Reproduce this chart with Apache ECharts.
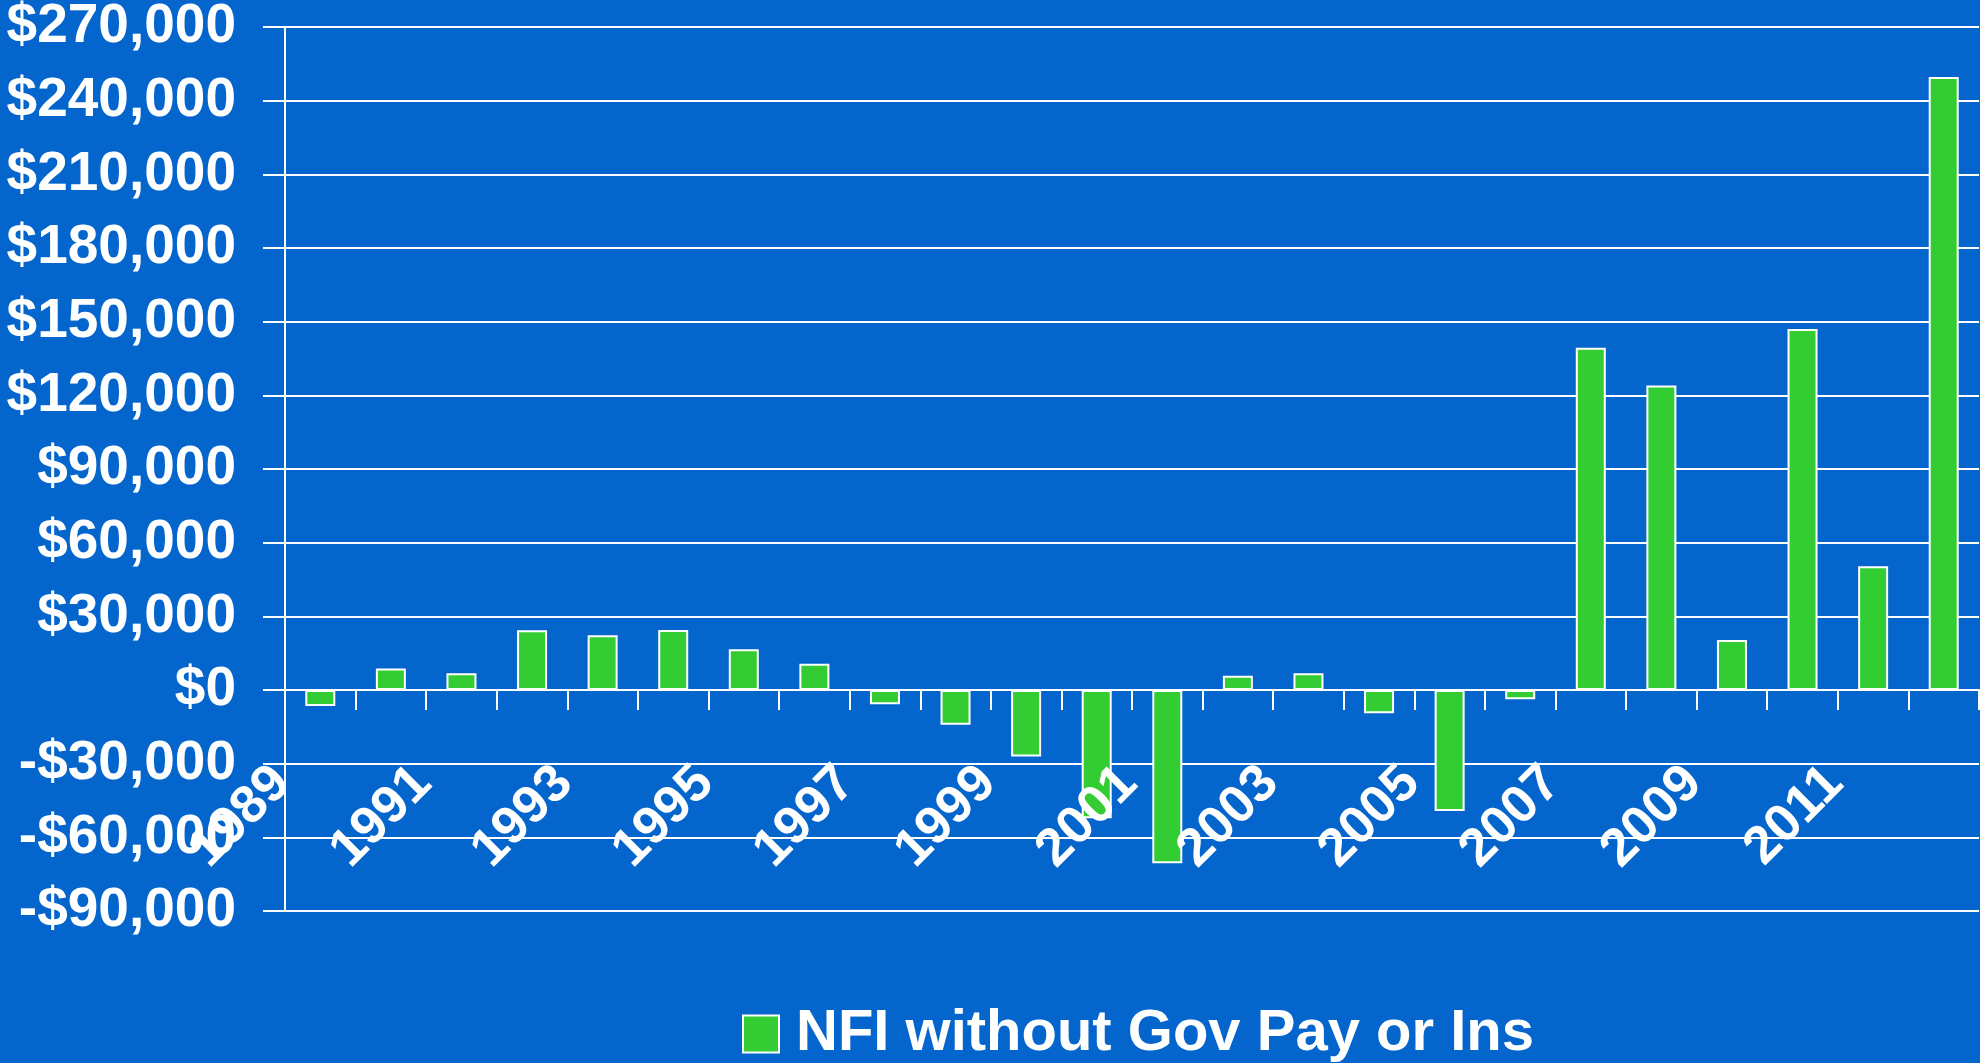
<!DOCTYPE html>
<html><head><meta charset="utf-8">
<script src="https://cdn.jsdelivr.net/npm/echarts@6/dist/echarts.min.js"></script>
<style>html,body{margin:0;padding:0;background:#0466cc}#c{width:1980px;height:1063px}</style>
</head><body><div id="c"></div>
<script>
const years = ['1989','1990','1991','1992','1993','1994','1995','1996','1997','1998','1999','2000','2001','2002','2003','2004','2005','2006','2007','2008','2009','2010','2011','2012'];
const nfiValues = [-6500, 8800, 6800, 24300, 22300, 24400, 16600, 10700, -5800, -14200, -27100, -52200, -70600, 5800, 6800, -9500, -49300, -3800, 139400, 124000, 20400, 147000, 50400, 249600];
const seriesName = 'NFI without Gov Pay or Ins';
const yMin = -90000, yMax = 270000, yStep = 30000;

const FONT = "'Liberation Sans', Arial, sans-serif";
const chart = echarts.init(document.getElementById('c'), null, {renderer: 'canvas'});
chart.setOption({
  backgroundColor: '#0466cc',
  animation: false,
  grid: {left: 285, right: 1, top: 27, bottom: 152, containLabel: false, outerBoundsMode: 'none'},
  legend: {
    data: [seriesName], left: 742, top: 1005, padding: 0,
    itemWidth: 36, itemHeight: 37, itemGap: 19,
    icon: 'rect',
    itemStyle: {borderColor: '#ffffff', borderWidth: 2},
    textStyle: {color: '#ffffff', fontFamily: FONT, fontWeight: 'bold', fontSize: 58, lineHeight: 58, padding: [0,0,0,12]}
  },
  xAxis: {
    type: 'category', data: years, z: 5,
    axisLine: {onZero: true, lineStyle: {color: '#ffffff', width: 2}},
    axisTick: {show: true, length: 20, interval: 0, lineStyle: {color: '#ffffff', width: 2}},
    axisLabel: {interval: 1, rotate: 45, margin: -174, color: '#ffffff', fontFamily: FONT, fontWeight: 'bold', fontSize: 53, padding: [0, 54, 0, 0]},
    splitLine: {show: false}
  },
  yAxis: {
    type: 'value', min: yMin, max: yMax, interval: yStep,
    axisLine: {show: true, lineStyle: {color: '#ffffff', width: 2}},
    axisTick: {show: true, length: 22, lineStyle: {color: '#ffffff', width: 2}},
    splitLine: {show: true, lineStyle: {color: '#ffffff', width: 2}},
    axisLabel: {
      margin: 49, color: '#ffffff', fontFamily: FONT, fontWeight: 'bold', fontSize: 55,
      formatter: v => (v < 0 ? '-$' : '$') + Math.abs(v).toLocaleString('en-US')
    }
  },
  series: [{
    name: seriesName, type: 'bar', data: nfiValues, barWidth: 30,
    itemStyle: {color: '#33cc33', borderColor: '#ffffff', borderWidth: 2}
  }]
});
</script></body></html>
